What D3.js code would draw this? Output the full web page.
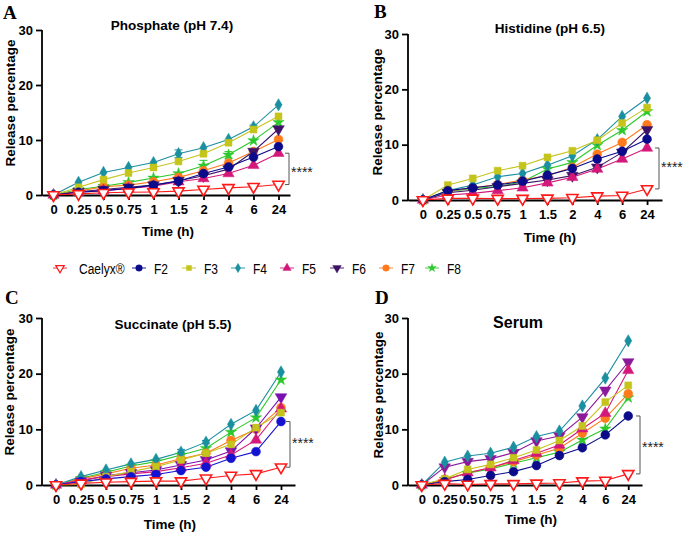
<!DOCTYPE html>
<html><head><meta charset="utf-8">
<script src="https://cdn.jsdelivr.net/npm/d3@7"></script>
<style>
body{margin:0;background:#fff;}
svg{display:block;font-family:"Liberation Sans",Arial,sans-serif;}
</style></head>
<body>
<svg id="chart" width="685" height="533"></svg>
<script>
// ---------- DATA ----------
const timeLabels = ["0","0.25","0.5","0.75","1","1.5","2","4","6","24"];
const seriesNames = ["Caelyx®","F2","F3","F4","F5","F6","F7","F8"];
const yTicks = [0,10,20,30];

// rows follow seriesNames order
const phosphateValues = [
  [0,0.2,0.4,0.5,0.55,0.7,1.0,1.3,1.5,1.9],
  [0,0.5,0.8,1.2,1.8,2.5,3.9,5.1,6.9,8.8],
  [0,1.4,2.8,4.0,5.0,6.1,7.5,9.5,11.9,14.3],
  [0,2.3,4.1,5.0,5.9,7.5,8.6,10.1,12.4,16.4],
  [0,0.5,0.8,1.2,1.6,2.4,3.0,3.9,5.4,7.6],
  [0,0.6,1.0,1.4,1.8,2.6,3.5,4.7,7.9,12.0],
  [0,0.7,1.5,1.8,2.4,3.2,4.4,5.8,7.9,10.1],
  [0,1.0,1.6,2.3,3.1,3.9,5.3,7.3,9.9,13.2]
];
const histidineValues = [
  [0,0.3,0.3,0.25,0.25,0.3,0.4,0.7,0.8,2.0],
  [0,1.7,2.2,2.7,3.4,4.5,5.7,7.4,8.8,11.0],
  [0,2.7,3.9,5.3,6.2,7.7,8.9,10.8,13.9,16.7],
  [0,1.7,2.7,4.2,4.8,6.3,8.0,10.9,15.1,18.4],
  [0,0.9,1.2,1.7,2.2,3.1,4.1,5.6,7.4,9.4],
  [0,1.3,1.75,2.4,3.0,3.6,4.4,5.9,8.6,12.7],
  [0,1.6,2.2,2.8,3.6,4.4,5.9,8.3,10.4,13.6],
  [0,1.5,2.1,2.4,3.3,5.6,6.8,9.9,12.6,16.0]
];
const succinateValues = [
  [0,0.3,0.5,0.6,0.7,0.7,1.2,1.7,2.0,3.2],
  [0,0.6,1.1,1.5,1.9,2.6,3.2,4.8,6.0,11.4],
  [0,0.1,1.5,2.4,3.3,4.5,5.7,7.3,10.3,13.0],
  [0,1.5,2.7,3.8,4.6,5.9,7.7,10.9,13.4,20.3],
  [0,0.9,1.5,2.0,2.4,3.1,3.9,5.4,8.1,13.7],
  [0,0.7,1.7,2.2,2.7,3.6,4.5,6.1,10.2,15.8],
  [0,1.1,2.0,3.0,3.6,4.7,5.7,8.0,10.0,13.9],
  [0,1.2,2.3,3.4,4.2,5.4,6.6,9.5,12.1,18.9]
];
const serumValues = [
  [0,0.25,0.1,0.2,0.2,0.3,0.35,0.7,0.8,2.0],
  [0,0.6,1.0,1.7,2.4,3.5,5.3,6.7,9.0,12.4],
  [0,1.1,2.8,3.7,4.9,6.3,8.0,10.6,14.9,17.9],
  [0,4.1,5.2,5.7,6.8,8.7,9.7,14.2,19.2,25.9],
  [0,0.9,2.2,3.1,4.4,5.7,7.2,10.1,12.9,20.6],
  [0,3.2,4.2,4.7,5.8,7.9,8.8,12.2,17.0,22.1],
  [0,1.0,2.2,3.1,4.2,5.4,6.6,9.3,12.0,16.4],
  [0,1.0,2.1,2.9,3.9,4.9,5.9,8.1,10.1,15.7]
];
// visible error bars: [seriesIndex, timeIndex, sd]
const phosphateErrors = [[3,5,0.7],[7,6,1.0],[7,7,0.6],[3,8,0.3]];
const histidineErrors = [];
const succinateErrors = [[3,5,0.5],[3,6,0.3]];
const serumErrors = [];

// ---------- STYLE ----------
const baseColors = ["#ff1a1a","#0a0a8a","#c4c41c","#1a8fa0","#d4187a","#3e1266","#ff7a1a","#2cc82c"];
const tri = d3.symbolTriangle;
const shapes = [tri, d3.symbolCircle, d3.symbolSquare, d3.symbolDiamond, tri, tri, d3.symbolCircle, d3.symbolStar];
const rotations = [180,0,0,0,0,180,0,0];
const sizes = [55,62,48,44,55,58,62,40];

const panels = [
  {letter:"A", lx:3, ly:19, title:"Phosphate (pH 7.4)", tx:172, ty:30, tsize:13.5, values:phosphateValues, errors:phosphateErrors,
   xr:[42,290], pad:0.46, yr:[195,30], ylx:10, yly:103, timeX:168, timeY:236,
   br:{x:289, top:7.6, bottom:1.9, sy:177}, colors:{}},
  {letter:"B", lx:374, ly:18, title:"Histidine (pH 6.5)", tx:550, ty:33, tsize:13.5, values:histidineValues, errors:histidineErrors,
   xr:[408,662], pad:0.6, yr:[200,34], ylx:377, yly:112, timeX:550, timeY:242,
   br:{x:659, top:9.4, bottom:2.0, sy:172}, colors:{}},
  {letter:"C", lx:5, ly:304, title:"Succinate (pH 5.5)", tx:173, ty:329, tsize:13.5, values:succinateValues, errors:succinateErrors,
   xr:[42,295], pad:0.56, yr:[485,318], ylx:9, yly:392, timeX:170, timeY:529,
   br:{x:290, top:11.4, bottom:3.2, sy:448}, colors:{1:"#1212d0",5:"#7a10b0"}},
  {letter:"D", lx:375, ly:304, title:"Serum", tx:518, ty:328, tsize:16, values:serumValues, errors:serumErrors,
   xr:[408,642], pad:0.6, yr:[485,318], ylx:378, yly:395, timeX:531, timeY:524,
   br:{x:640, top:12.4, bottom:2.0, sy:452}, colors:{5:"#8a1a9a"}}
];

const svg = d3.select("#chart");

function symbolPath(i){
  return d3.symbol().type(shapes[i]).size(sizes[i])();
}

panels.forEach(p => {
  const g = svg.append("g");
  const x = d3.scalePoint().domain(timeLabels).range(p.xr).padding(p.pad);
  const y = d3.scaleLinear().domain([0,30]).range(p.yr);
  const col = i => p.colors[i] || baseColors[i];

  g.append("text").attr("x",p.lx).attr("y",p.ly)
    .attr("font-family","'Liberation Serif','Times New Roman',serif").attr("font-weight","bold").attr("font-size",19)
    .text(p.letter);
  g.append("text").attr("x",p.tx).attr("y",p.ty).attr("text-anchor","middle")
    .attr("font-weight","bold").attr("font-size",p.tsize).text(p.title);
  g.append("text").attr("transform",`translate(${p.ylx + 5},${p.yly}) rotate(-90)`)
    .attr("text-anchor","middle").attr("font-weight","bold").attr("font-size",13.5).text("Release percentage");
  g.append("text").attr("x",p.timeX).attr("y",p.timeY).attr("text-anchor","middle")
    .attr("font-weight","bold").attr("font-size",13.5).text("Time (h)");

  const yAxis = g.append("g").attr("transform",`translate(${p.xr[0]},0)`)
    .call(d3.axisLeft(y).tickValues(yTicks).tickSize(6).tickSizeOuter(0).tickPadding(3));
  const xAxis = g.append("g").attr("transform",`translate(0,${p.yr[0]})`)
    .call(d3.axisBottom(x).tickSize(5).tickSizeOuter(0).tickPadding(5));
  [yAxis,xAxis].forEach(a => {
    a.selectAll("path,line").attr("stroke","#000").attr("stroke-width",1.8);
    a.selectAll("text").attr("font-family","'Liberation Sans',Arial,sans-serif").attr("font-weight","bold").attr("font-size",13).attr("fill","#000");
  });
  yAxis.select(".domain").attr("d",`M0,${p.yr[0]+1}V${p.yr[1]}`);

  p.errors.forEach(([si,ti,sd]) => {
    const v = p.values[si][ti], cx = x(timeLabels[ti]);
    g.append("path").attr("fill","none").attr("stroke",col(si)).attr("stroke-width",1)
      .attr("d",`M${cx},${y(v-sd)}V${y(v+sd)}M${cx-4},${y(v+sd)}H${cx+4}M${cx-4},${y(v-sd)}H${cx+4}`);
  });

  const line = d3.line().x((d,i)=>x(timeLabels[i])).y(d=>y(d));
  for (let si = seriesNames.length-1; si >= 0; si--) {
    g.append("path").datum(p.values[si]).attr("fill","none").attr("stroke",col(si))
      .attr("stroke-width",1.1).attr("d",line);
  }
  for (let si = seriesNames.length-1; si >= 0; si--) {
    g.selectAll(null).data(p.values[si]).enter().append("path")
      .attr("d",symbolPath(si))
      .attr("transform",(d,i)=>`translate(${x(timeLabels[i])},${y(d)}) rotate(${rotations[si]})`)
      .attr("fill", si===0 ? "#fff" : col(si))
      .attr("stroke",col(si)).attr("stroke-width", si===0 ? 1.6 : 0.5);
  }

  const b = p.br, yt = y(b.top), yb = y(b.bottom);
  g.append("path").attr("fill","none").attr("stroke","#555").attr("stroke-width",1)
    .attr("d",`M${b.x-4},${yt}H${b.x}V${yb}H${b.x-4}`);
  g.append("text").attr("x",b.x+2).attr("y",b.sy).attr("font-size",14).attr("fill","#222").text("****");
});

// legend
const legendX = [60,139,189,238,287,337,386,432];
const legend = svg.append("g").attr("transform","translate(0,268)");
seriesNames.forEach((name,i) => {
  const c = baseColors[i];
  legend.append("line").attr("x1",legendX[i]-7).attr("x2",legendX[i]+7).attr("y1",0).attr("y2",0)
    .attr("stroke",c).attr("stroke-opacity",0.45).attr("stroke-width",2);
  legend.append("path").attr("d",symbolPath(i))
    .attr("transform",`translate(${legendX[i]},0) rotate(${rotations[i]}) scale(0.75)`)
    .attr("fill", i===0 ? "#fff" : c).attr("stroke",c).attr("stroke-width", i===0?1.6:0.5);
  legend.append("text")
    .attr("transform",`translate(${legendX[i] + (i===0?19:15)},5.5) scale(0.8,1)`)
    .attr("font-family","'Liberation Sans',Arial,sans-serif")
    .attr("font-size",15).text(name);
});
</script>
</body></html>
